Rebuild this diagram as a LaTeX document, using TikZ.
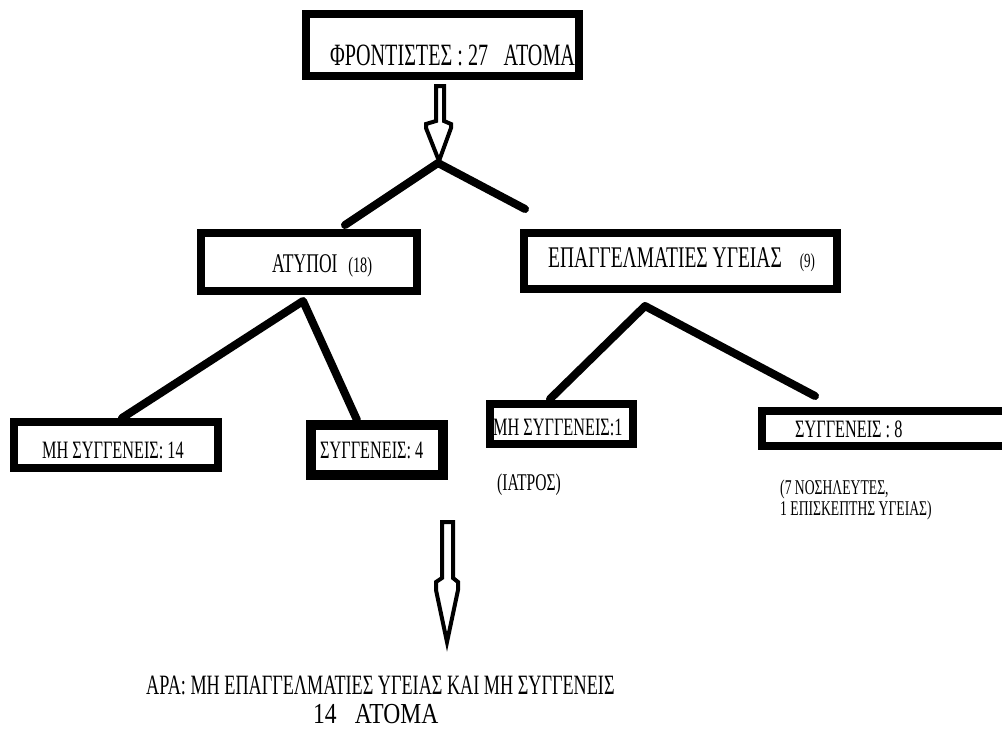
\documentclass[tikz,border=0pt]{standalone}
\usepackage{fontspec}
\setmainfont[FakeStretch=0.65]{Liberation Serif}
\newcommand{\fs}[1]{\fontsize{#1}{#1}\selectfont}
\begin{document}
\begin{tikzpicture}[x=1pt,y=-1pt,
  box/.style={draw=black, line width=8pt, inner sep=0pt, fill=white},
  txt/.style={inner sep=0pt, anchor=base west, text=black},
  conn/.style={draw=black, line width=8pt, line cap=round, line join=round},
  harrow/.style={draw=black, fill=white, line width=4pt, line join=miter}]
\useasboundingbox (0,0) rectangle (1002,729);
\clip (0,0) rectangle (1002,729);
% connector coordinates
\coordinate (tip0) at (438,163);
\coordinate (e1) at (345,225);
\coordinate (e2) at (525,209);
\coordinate (p1) at (303,301);
\coordinate (e3) at (122,418);
\coordinate (e4) at (357,420);
\coordinate (p2) at (645,306);
\coordinate (e5) at (550,399);
\coordinate (e6) at (815,396);
% connectors
\draw[conn] (e1) -- (tip0) -- (e2);
\draw[conn] (e3) -- (p1) -- (e4);
\draw[conn] (e5) -- (p2) -- (e6);
% boxes
\node[box, minimum width=273pt, minimum height=62pt] (b0) at (442.5,45) {};
\node[box, minimum width=216pt, minimum height=58pt] (b1) at (309,262) {};
\node[box, minimum width=313pt, minimum height=56pt] (b2) at (680.5,261) {};
\node[box, minimum width=204pt, minimum height=46pt] (b3) at (116,445) {};
\node[box, line width=10pt, minimum width=132pt, minimum height=50pt] (b4) at (377,450) {};
\node[box, minimum width=143pt, minimum height=40pt] (b5) at (561.5,424) {};
\node[box, minimum width=244pt, minimum height=35pt] (b6) at (884,428.5) {};
% texts
\node[txt] (t0) at (330,65) {\fs{31}ΦΡΟΝΤΙΣΤΕΣ : 27\hspace{0.5em}ΑΤΟΜΑ};
\node[txt] (t1) at (272,272) {\fs{27}ΑΤΥΠΟΙ\hspace{0.4em}{\fs{22}(18)}};
\node[txt] (t2) at (548,267) {\fs{30}ΕΠΑΓΓΕΛΜΑΤΙΕΣ ΥΓΕΙΑΣ\hspace{0.6em}{\fs{20}(9)}};
\node[txt] (t3) at (42,458) {\fs{25}ΜΗ ΣΥΓΓΕΝΕΙΣ: 14};
\node[txt] (t4) at (320,458) {\fs{25}ΣΥΓΓΕΝΕΙΣ: 4};
\node[txt] (t5) at (493,435) {\fs{25}ΜΗ ΣΥΓΓΕΝΕΙΣ:1};
\node[txt] (t6) at (795,437) {\fs{25}ΣΥΓΓΕΝΕΙΣ : 8};
\node[txt] (t7) at (497,490) {\fs{24}(ΙΑΤΡΟΣ)};
\node[txt] (t8) at (780,494) {\fs{21}(7 ΝΟΣΗΛΕΥΤΕΣ,};
\node[txt] (t9) at (780,515) {\fs{21}1 ΕΠΙΣΚΕΠΤΗΣ ΥΓΕΙΑΣ)};
\node[txt] (t10) at (146,694) {\fs{28}ΑΡΑ: ΜΗ ΕΠΑΓΓΕΛΜΑΤΙΕΣ ΥΓΕΙΑΣ ΚΑΙ ΜΗ ΣΥΓΓΕΝΕΙΣ};
\node[txt] (t11) at (313,723) {\scalebox{1.25}[1]{\fs{29}14\hspace{0.5em}ΑΤΟΜΑ}};
% hollow arrows
\draw[harrow] (436,86) -- (444,86) -- (444,121) -- (451,124) -- (451,128) -- (439,161)
  -- (426,128) -- (426,124) -- (436,121) -- cycle;
\draw[harrow] (442,522) -- (453,522) -- (453,578) -- (458,582) -- (458,590) -- (447,642)
  -- (436,590) -- (436,582) -- (442,578) -- cycle;
\end{tikzpicture}
\end{document}
